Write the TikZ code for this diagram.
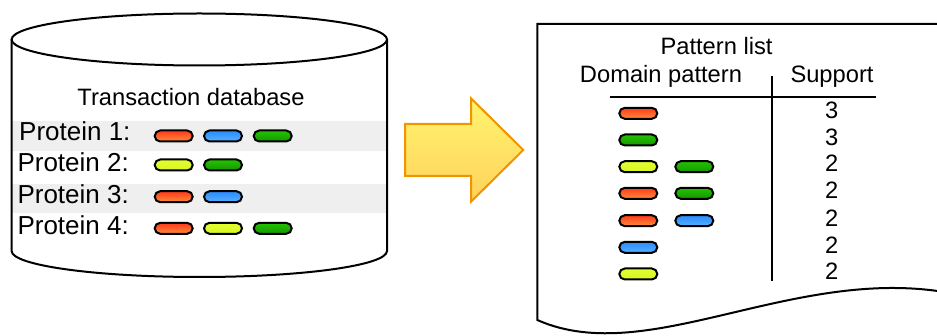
\documentclass[tikz,border=0pt]{standalone}
\usepackage{fontspec}
\setmainfont{Liberation Sans}
\usetikzlibrary{shapes.misc}

\definecolor{redtop}{HTML}{FF3A1A}
\definecolor{redbot}{HTML}{FF8C3C}
\definecolor{bluetop}{HTML}{2A8AFF}
\definecolor{bluebot}{HTML}{55B2FF}
\definecolor{greentop}{HTML}{22C400}
\definecolor{greenbot}{HTML}{189400}
\definecolor{yellowtop}{HTML}{E4FF2E}
\definecolor{yellowbot}{HTML}{D8F428}
\definecolor{bandgray}{HTML}{EFEFEF}
\definecolor{arrowtop}{HTML}{FFF46E}
\definecolor{arrowbot}{HTML}{FFD25C}
\definecolor{arrowline}{HTML}{F29400}

\begin{document}
\begin{tikzpicture}[x=1pt,y=-1pt,
    txt/.style={inner sep=0pt,anchor=base,font=\fontsize{23.7}{28}\selectfont},
    lbl/.style={inner sep=0pt,anchor=base west,font=\fontsize{26}{30}\selectfont},
    pill/.style={draw=black,line width=2pt,rounded rectangle,minimum width=38,minimum height=11,inner sep=0pt},
    pred/.style={pill,top color=redtop,bottom color=redbot},
    pblue/.style={pill,top color=bluetop,bottom color=bluebot},
    pgreen/.style={pill,top color=greentop,bottom color=greenbot},
    pyellow/.style={pill,top color=yellowtop,bottom color=yellowbot},
    heavy/.style={line width=2pt}]
    \useasboundingbox (0,0) rectangle (937,336);
    \clip (0,0) rectangle (937,336);

    % database cylinder
    \fill[white] (11.6,39.5) -- (11.6,251) arc[start angle=180,end angle=0,x radius=187.7,y radius=26]
        -- (387,39.5) arc[start angle=0,end angle=-180,x radius=187.7,y radius=26] -- cycle;
    \fill[bandgray] (11.6,121) rectangle (387,151);
    \fill[bandgray] (11.6,184) rectangle (387,213);
    \draw[heavy] (199.3,39.5) ellipse[x radius=187.7,y radius=26];
    \draw[heavy] (11.6,39.5) -- (11.6,251) arc[start angle=180,end angle=0,x radius=187.7,y radius=26] -- (387,39.5);

    \node (db) [txt] at (191,106) {Transaction database};

    \node (p1) [lbl] at (19,141) {Protein 1:};
    \node (p2) [lbl] at (17.3,171.7) {Protein 2:};
    \node (p3) [lbl] at (17.3,203.3) {Protein 3:};
    \node (p4) [lbl] at (17.3,235) {Protein 4:};

    \node (p1a) [pred] at (173.7,136) {};
    \node (p1b) [pblue] at (223,136) {};
    \node (p1c) [pgreen] at (272.7,136) {};
    \node (p2a) [pyellow] at (173.7,165) {};
    \node (p2b) [pgreen] at (223,165) {};
    \node (p3a) [pred] at (173.7,196.7) {};
    \node (p3b) [pblue] at (223,196.7) {};
    \node (p4a) [pred] at (173.7,228.3) {};
    \node (p4b) [pyellow] at (223,228.3) {};
    \node (p4c) [pgreen] at (272.7,228.3) {};

    % big arrow
    \path[draw=arrowline,line width=2pt,top color=arrowtop,bottom color=arrowbot]
        (405,124) -- (471,124) -- (471,98.3) -- (523.3,150) -- (471,201.7) -- (471,176) -- (405,176) -- cycle;

    % pattern list sheet
    \draw[heavy,fill=white] (537.3,320) -- (537.3,24) -- (960,24) -- (960,295)
        .. controls (800,260) and (650,370) .. (537.3,320) -- cycle;

    \node (pl) [txt] at (716.5,54.3) {Pattern list};
    \node (dp) [txt] at (661,82.7) {Domain pattern};
    \node (sup) [txt] at (832,82.7) {Support};

    \coordinate (hl) at (610,97.3);
    \coordinate (hr) at (875.7,97.3);
    \coordinate (vt) at (772.3,76);
    \coordinate (vb) at (772.3,281);
    \draw[heavy] (hl) -- (hr);
    \draw[heavy] (vt) -- (vb);

    \node (r1a) [pred] at (638.3,113.3) {};
    \node (r2a) [pgreen] at (638.3,140) {};
    \node (r3a) [pyellow] at (638.3,166.7) {};
    \node (r3b) [pgreen] at (694.3,166.7) {};
    \node (r4a) [pred] at (638.3,193.3) {};
    \node (r4b) [pgreen] at (694.3,193.3) {};
    \node (r5a) [pred] at (638.3,220.7) {};
    \node (r5b) [pblue] at (694.3,220.7) {};
    \node (r6a) [pblue] at (638.3,247.3) {};
    \node (r7a) [pyellow] at (638.3,274) {};

    \node (s1) [txt] at (831.7,118.5) {3};
    \node (s2) [txt] at (831.7,145.5) {3};
    \node (s3) [txt] at (831.7,172) {2};
    \node (s4) [txt] at (831.7,199) {2};
    \node (s5) [txt] at (831.7,226.5) {2};
    \node (s6) [txt] at (831.7,253.3) {2};
    \node (s7) [txt] at (831.7,280) {2};
  \end{tikzpicture}
\end{document}
